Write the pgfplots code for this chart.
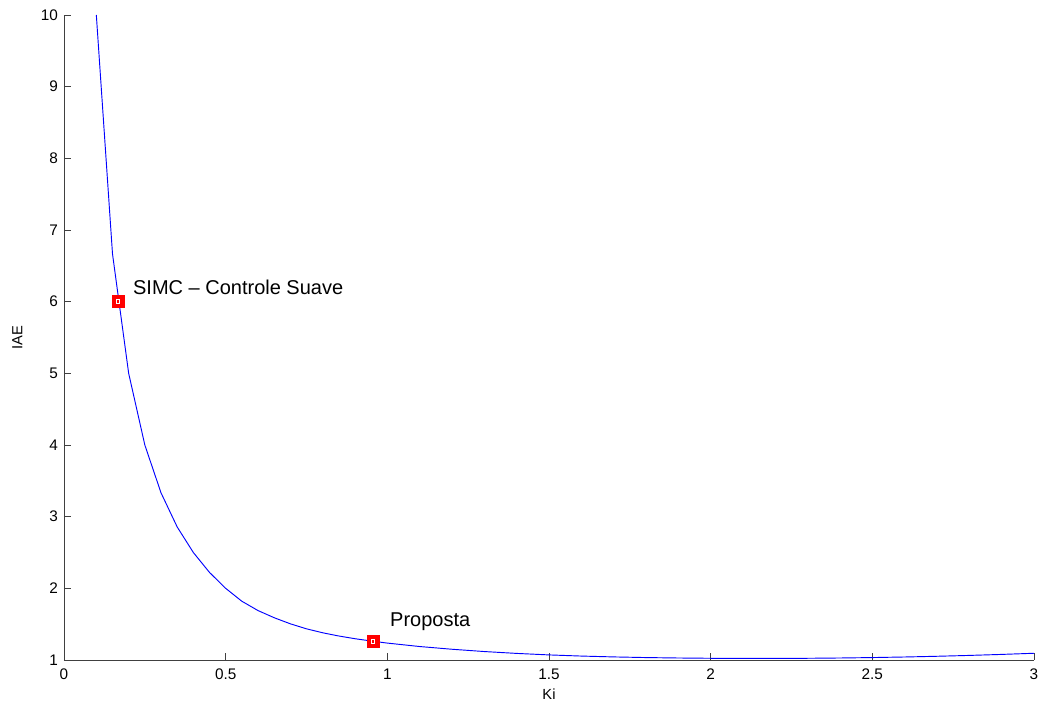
\documentclass[border=0pt]{standalone}
\usepackage{fontspec}
\setmainfont{Liberation Sans}
\usepackage{pgfplots}
\pgfplotsset{compat=1.18}

% IAE of the closed loop as a function of the integral gain Ki
\pgfplotstableread{
Ki    IAE
0.10  10.00
0.15  6.667
0.20  5.000
0.25  4.000
0.30  3.333
0.35  2.857
0.40  2.500
0.45  2.222
0.50  2.000
0.55  1.820
0.60  1.690
0.65  1.590
0.70  1.505
0.75  1.435
0.80  1.380
0.85  1.335
0.90  1.297
0.95  1.265
1.00  1.236
1.10  1.188
1.20  1.150
1.30  1.118
1.40  1.092
1.50  1.071
1.60  1.055
1.70  1.043
1.80  1.034
1.90  1.028
2.00  1.024
2.10  1.022
2.20  1.022
2.30  1.024
2.40  1.028
2.50  1.034
2.60  1.042
2.70  1.052
2.80  1.064
2.90  1.078
3.00  1.094
}\iaecurve

\begin{document}
\begin{tikzpicture}
\begin{axis}[
  scale only axis,
  width=727.5pt, height=483.75pt,
  at={(0,0)}, anchor=south west,
  xmin=0, xmax=3, ymin=1, ymax=10,
  xtick={0,0.5,...,3}, ytick={1,2,...,10},
  axis x line*=bottom, axis y line*=left,
  axis line style={-, draw=black!75, line width=0.6pt},
  tick align=inside,
  major tick length=5pt,
  tick style={draw=black!75, line width=0.6pt},
  tick label style={font=\fontsize{11.5}{13}\selectfont},
  /pgf/number format/assume math mode=true,
  xticklabel style={yshift=-3pt},
  yticklabel style={xshift=-1pt},
  xlabel={Ki}, ylabel={IAE},
  label style={font=\fontsize{11}{13}\selectfont},
  xlabel style={at={(axis description cs:0.5,-0.0537)}, anchor=center},
  ylabel style={at={(axis description cs:-0.0481,0.5)}, anchor=center},
  clip=false,
]
\addplot[blue, line width=0.7pt, mark=none] table[x=Ki, y=IAE] {\iaecurve};

% tuning points
\addplot[only marks, mark=square*, mark size=4.5pt, draw=red, fill=red]
  coordinates {(0.1667,6.0) (0.955,1.265)};
\addplot[only marks, mark=square, mark size=1.4pt, draw=white, line width=0.5pt]
  coordinates {(0.1667,6.0) (0.955,1.265)};

\node[anchor=west, font=\fontsize{15}{18}\selectfont, inner sep=0pt]
  at (axis cs:0.213,6.2) {SIMC – Controle Suave};
\node[anchor=west, font=\fontsize{15}{18}\selectfont, inner sep=0pt]
  at (axis cs:1.008,1.53) {Proposta};
\end{axis}
\pgfresetboundingbox
\path (-48pt,-34.5pt) rectangle (735pt,495pt);
\end{tikzpicture}
\end{document}
